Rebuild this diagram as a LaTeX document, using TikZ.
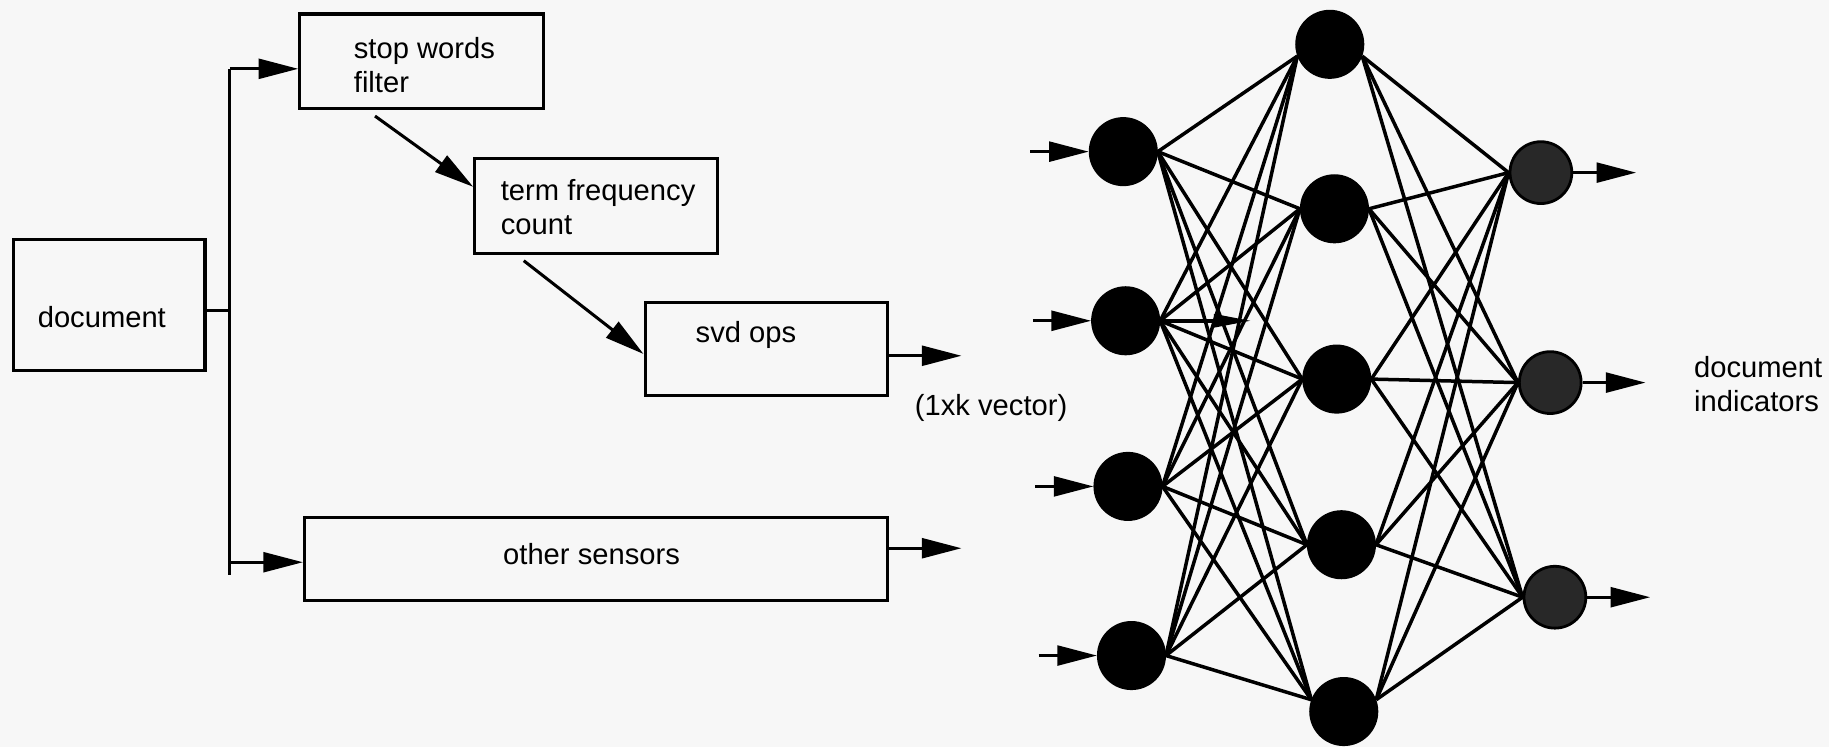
\documentclass[tikz,border=0pt]{standalone}
\usepackage{fontspec}
\setmainfont{Liberation Sans}
\usetikzlibrary{arrows.meta}
\definecolor{bg}{RGB}{247,247,247}
\definecolor{outfill}{RGB}{40,40,40}
\begin{document}
\begin{tikzpicture}[x=0.5pt,y=-0.5pt,
  box/.style={draw, line width=1.3pt, inner sep=0pt},
  lbl/.style={anchor=base west, inner sep=0pt, align=left, font=\fontsize{12.5}{14.5}\selectfont},
  arr/.style={line width=1.3pt, -{Triangle[length=17pt,width=8.5pt]}},
  ln/.style={line width=1.3pt},
  neuron/.style={circle, fill=black, draw=black, line width=0.6pt, minimum size=29pt, inner sep=0pt},
  outn/.style={circle, fill=outfill, draw=black, line width=1.2pt, minimum size=26.5pt, inner sep=0pt},
  edge/.style={line width=1.5pt}]
\fill[bg] (0,0) rectangle (1568,640);
\useasboundingbox (0,0) rectangle (1568,640);

% boxes
\node[box, minimum width=82pt, minimum height=56.5pt] (doc) at (93.75,261.5) {};
\node[box, minimum width=104.5pt, minimum height=40.5pt] (sw) at (361.5,52.5) {};
\node[box, minimum width=104pt, minimum height=40.75pt] (tf) at (511,176.25) {};
\node[box, minimum width=104pt, minimum height=40pt] (svd) at (657,299) {};
\node[box, minimum width=250pt, minimum height=35.5pt] (os) at (511,479.5) {};

% texts (multi-line: anchor on last line's baseline)
\node[lbl] (tdoc) at (32,281) {document};
\node[lbl] (tsw) at (303,79) {stop words\\filter};
\node[lbl] (ttf) at (429,201) {term frequency\\count};
\node[lbl] (tsvd) at (596,294) {svd ops};
\node[lbl] (tvec) at (784,356) {(1xk vector)};
\node[lbl] (tos) at (431,484) {other sensors};
\node[lbl] (tind) at (1452,353) {document\\indicators};

% left connectors
\coordinate (jn) at (197,266);
\coordinate (bt) at (197,59);
\coordinate (bb) at (197,493);
\coordinate (b2) at (197,482);
\draw[ln] (doc.east |- jn) -- (jn);
\draw[ln] (bt) -- (bb);
\draw[arr] (bt) -- (bt -| sw.west);
\draw[arr] (b2) -- (b2 -| os.west);
\coordinate (d1) at (321.5,99.5);
\coordinate (d2) at (449,223.5);
\draw[arr] (d1) -- ([yshift=-13pt]tf.north west);
\draw[arr] (d2) -- ([yshift=-2.25pt]svd.west);
\draw[arr] ([yshift=-3pt]svd.east) -- ++(31pt,0);
\draw[arr] ([yshift=4.75pt]os.east) -- ++(31pt,0);

% network nodes
\node[neuron] (i1) at (963,130) {};
\node[neuron] (i2) at (965,275) {};
\node[neuron] (i3) at (967,417) {};
\node[neuron] (i4) at (970,562) {};
\node[neuron] (h1) at (1140,38) {};
\node[neuron] (h2) at (1144,179) {};
\node[neuron] (h3) at (1146,325) {};
\node[neuron] (h4) at (1150,467) {};
\node[neuron] (h5) at (1152,610) {};
\node[outn] (o1) at (1321,148) {};
\node[outn] (o2) at (1329,328) {};
\node[outn] (o3) at (1333,512) {};

% edges
\foreach \i in {1,2,3,4}{
  \foreach \h/\a in {1/200,2/180,3/180,4/180,5/160}{
    \draw[edge] (i\i.east) -- (h\h.\a);
  }
}
\foreach \h/\a in {1/340,2/0,3/0,4/0,5/20}{
  \foreach \o in {1,2,3}{
    \draw[edge] (h\h.\a) -- (o\o.west);
  }
}
\draw[edge, -{Triangle[length=16pt,width=5.5pt]}] (i2.east) -- ++(39pt,0);

% input / output arrows
\foreach \i in {1,2,3,4}{
  \draw[arr] ([xshift=-25pt]i\i.west) -- (i\i.west);
}
\foreach \o in {1,2,3}{
  \draw[arr] (o\o.east) -- ++(27pt,0);
}
\end{tikzpicture}
\end{document}
